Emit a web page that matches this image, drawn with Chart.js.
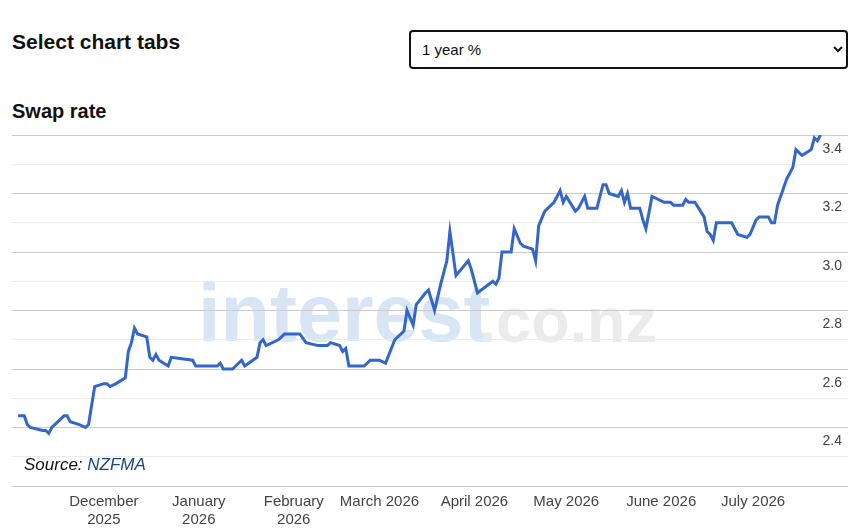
<!DOCTYPE html>
<html>
<head>
<meta charset="utf-8">
<script src="https://cdn.jsdelivr.net/npm/chart.js@4/dist/chart.umd.min.js"></script>
<style>
  body { margin: 0; background: #fff; font-family: "Liberation Sans", Arial, sans-serif; }
  #page { position: relative; width: 866px; height: 528px; overflow: hidden; }
  h2 { position: absolute; margin: 0; left: 12px; font-weight: bold; color: #111; }
  #tabsTitle { top: 30px; font-size: 21px; }
  #chartTitle { top: 100px; font-size: 20px; }
  select {
    position: absolute; left: 409px; top: 30px; width: 439px; height: 39px;
    border: 2px solid #111; border-radius: 4px; background: #fff;
    font: 15px "Liberation Sans", Arial, sans-serif; color: #111; padding-left: 7px;
  }
  #swapChart { position: absolute; left: 0; top: 115px; }
</style>
</head>
<body>
<div id="page">
  <h2 id="tabsTitle">Select chart tabs</h2>
  <select><option>1 year %</option></select>
  <h2 id="chartTitle">Swap rate</h2>
  <canvas id="swapChart" width="866" height="422"></canvas>
</div>
<script>
// 1 year swap rate
const dates = [
  '2025-11-03', '2025-11-05', '2025-11-06', '2025-11-07', '2025-11-11', '2025-11-12', '2025-11-13', '2025-11-14',
  '2025-11-18', '2025-11-19', '2025-11-20', '2025-11-23', '2025-11-25', '2025-11-26', '2025-11-28',
  '2025-12-01', '2025-12-02', '2025-12-03', '2025-12-05', '2025-12-08', '2025-12-09', '2025-12-10', '2025-12-11',
  '2025-12-12', '2025-12-15', '2025-12-16', '2025-12-17', '2025-12-18', '2025-12-19', '2025-12-22', '2025-12-23',
  '2025-12-30', '2025-12-31',
  '2026-01-07', '2026-01-08', '2026-01-09', '2026-01-12', '2026-01-15', '2026-01-16', '2026-01-20', '2026-01-21',
  '2026-01-22', '2026-01-23', '2026-01-27', '2026-01-28', '2026-01-29',
  '2026-02-03', '2026-02-05', '2026-02-09', '2026-02-12', '2026-02-13', '2026-02-16', '2026-02-17', '2026-02-18',
  '2026-02-19', '2026-02-24', '2026-02-26',
  '2026-03-01', '2026-03-03', '2026-03-06', '2026-03-09', '2026-03-10', '2026-03-12', '2026-03-13', '2026-03-16',
  '2026-03-17', '2026-03-19', '2026-03-21', '2026-03-23', '2026-03-24', '2026-03-26', '2026-03-30', '2026-03-31',
  '2026-04-02', '2026-04-07', '2026-04-08', '2026-04-09', '2026-04-10', '2026-04-13', '2026-04-14', '2026-04-16',
  '2026-04-17', '2026-04-20', '2026-04-21', '2026-04-22', '2026-04-24', '2026-04-27', '2026-04-29', '2026-04-30',
  '2026-05-01', '2026-05-04', '2026-05-05', '2026-05-07', '2026-05-08', '2026-05-11', '2026-05-13', '2026-05-14',
  '2026-05-15', '2026-05-18', '2026-05-19', '2026-05-20', '2026-05-21', '2026-05-22', '2026-05-25', '2026-05-26',
  '2026-05-27', '2026-05-29',
  '2026-06-02', '2026-06-04', '2026-06-05', '2026-06-08', '2026-06-09', '2026-06-10', '2026-06-12', '2026-06-15',
  '2026-06-16', '2026-06-17', '2026-06-18', '2026-06-19', '2026-06-24', '2026-06-26', '2026-06-29', '2026-06-30',
  '2026-07-02', '2026-07-03', '2026-07-06', '2026-07-07', '2026-07-08', '2026-07-09', '2026-07-12', '2026-07-14',
  '2026-07-15', '2026-07-17', '2026-07-20', '2026-07-21', '2026-07-22', '2026-07-23'
];
const rates = [
  2.44, 2.44, 2.41, 2.40, 2.39, 2.39, 2.38, 2.40,
  2.44, 2.44, 2.42, 2.41, 2.40, 2.41, 2.54,
  2.55, 2.55, 2.54, 2.55, 2.57, 2.66, 2.69, 2.74,
  2.72, 2.71, 2.64, 2.63, 2.65, 2.63, 2.61, 2.64,
  2.63, 2.61,
  2.61, 2.62, 2.60, 2.60, 2.63, 2.61, 2.64, 2.69,
  2.70, 2.68, 2.70, 2.71, 2.72,
  2.72, 2.69, 2.68, 2.68, 2.69, 2.68, 2.66, 2.67,
  2.61, 2.61, 2.63,
  2.63, 2.62, 2.70, 2.73, 2.80, 2.75, 2.82, 2.86,
  2.87, 2.80, 2.89, 2.97, 3.07, 2.92, 2.97, 2.94,
  2.86, 2.90, 2.89, 2.91, 3.00, 3.00, 3.08, 3.03,
  3.02, 3.01, 2.97, 3.09, 3.14, 3.17, 3.21, 3.17,
  3.19, 3.14, 3.15, 3.19, 3.15, 3.15, 3.23, 3.23,
  3.20, 3.19, 3.21, 3.17, 3.20, 3.15, 3.15, 3.11,
  3.08, 3.19,
  3.17, 3.17, 3.16, 3.16, 3.18, 3.17, 3.17, 3.12,
  3.07, 3.06, 3.04, 3.10, 3.10, 3.06, 3.05, 3.06,
  3.11, 3.12, 3.12, 3.10, 3.10, 3.16, 3.25, 3.29,
  3.35, 3.33, 3.35, 3.39, 3.38, 3.40
];

const axisStart = '2025-11-01';
const axisEnd = '2026-08-01';
const monthStarts = ['2025-12-01', '2026-01-01', '2026-02-01', '2026-03-01', '2026-04-01', '2026-05-01', '2026-06-01', '2026-07-01'];
const monthLabels = [
  ['December', '2025'], ['January', '2026'], ['February', '2026'],
  'March 2026', 'April 2026', 'May 2026', 'June 2026', 'July 2026'
];
const yMin = 2.2;
const yMax = 3.4;

function dayOf(s) {
  const [y, m, d] = s.split('-').map(Number);
  const [y0, m0, d0] = axisStart.split('-').map(Number);
  return Math.round((Date.UTC(y, m - 1, d) - Date.UTC(y0, m0 - 1, d0)) / 86400000);
}

const isMajor = v => Math.round(v * 10) % 2 === 0;

// watermark behind the grid, source note over it
const decorations = {
  id: 'decorations',
  beforeDraw(chart) {
    const { ctx, chartArea: a } = chart;
    ctx.save();
    ctx.textBaseline = 'alphabetic';
    ctx.font = 'bold 81px "Liberation Sans", Arial, sans-serif';
    ctx.fillStyle = '#d8e5f5';
    ctx.fillText('interest', a.left + 186, a.top + 206);
    const w = ctx.measureText('interest').width;
    ctx.font = 'bold 63px "Liberation Sans", Arial, sans-serif';
    ctx.fillStyle = '#ebebeb';
    ctx.fillText('.co.nz', a.left + 186 + w - 12, a.top + 207);
    ctx.restore();
  },
  afterDatasetsDraw(chart) {
    const { ctx, chartArea: a } = chart;
    ctx.save();
    ctx.font = 'italic 17px "Liberation Sans", Arial, sans-serif';
    ctx.textBaseline = 'alphabetic';
    ctx.fillStyle = '#111';
    ctx.fillText('Source: ', a.left + 12, a.bottom - 16);
    const w = ctx.measureText('Source: ').width;
    ctx.fillStyle = '#1c4587';
    ctx.fillText('NZFMA', a.left + 12 + w, a.bottom - 16);
    ctx.restore();
  }
};

new Chart(document.getElementById('swapChart'), {
  type: 'line',
  data: {
    datasets: [{
      label: 'Swap rate',
      data: dates.map((d, i) => ({ x: dayOf(d), y: rates[i] })),
      borderColor: '#3366cc',
      borderWidth: 3,
      pointRadius: 0,
      tension: 0,
      fill: false
    }]
  },
  options: {
    responsive: false,
    animation: false,
    devicePixelRatio: 1,
    layout: { padding: { left: 12, right: 18, top: 20, bottom: 1 } },
    plugins: { legend: { display: false }, tooltip: { enabled: false } },
    scales: {
      x: {
        type: 'linear',
        min: dayOf(axisStart),
        max: dayOf(axisEnd),
        grid: { display: false, drawTicks: false },
        border: { display: false },
        afterBuildTicks: scale => {
          scale.ticks = monthStarts.map(m => ({ value: dayOf(m) }));
        },
        ticks: {
          autoSkip: false,
          maxRotation: 0,
          padding: 7,
          color: '#444',
          font: { family: '"Liberation Sans", Arial, sans-serif', size: 15 },
          callback: (value, index) => monthLabels[index]
        }
      },
      y: {
        position: 'right',
        min: yMin,
        max: yMax,
        border: { display: false },
        grid: {
          drawTicks: false,
          color: ctx => isMajor(ctx.tick.value) ? '#cccccc' : '#ebebeb'
        },
        ticks: {
          stepSize: 0.1,
          autoSkip: false,
          mirror: true,
          padding: -6,
          labelOffset: 14,
          color: '#444',
          font: { family: '"Liberation Sans", Arial, sans-serif', size: 14 },
          callback: value => (isMajor(value) && value > yMin + 0.05) ? value.toFixed(1) : ''
        }
      }
    }
  },
  plugins: [decorations]
});
</script>
</body>
</html>
